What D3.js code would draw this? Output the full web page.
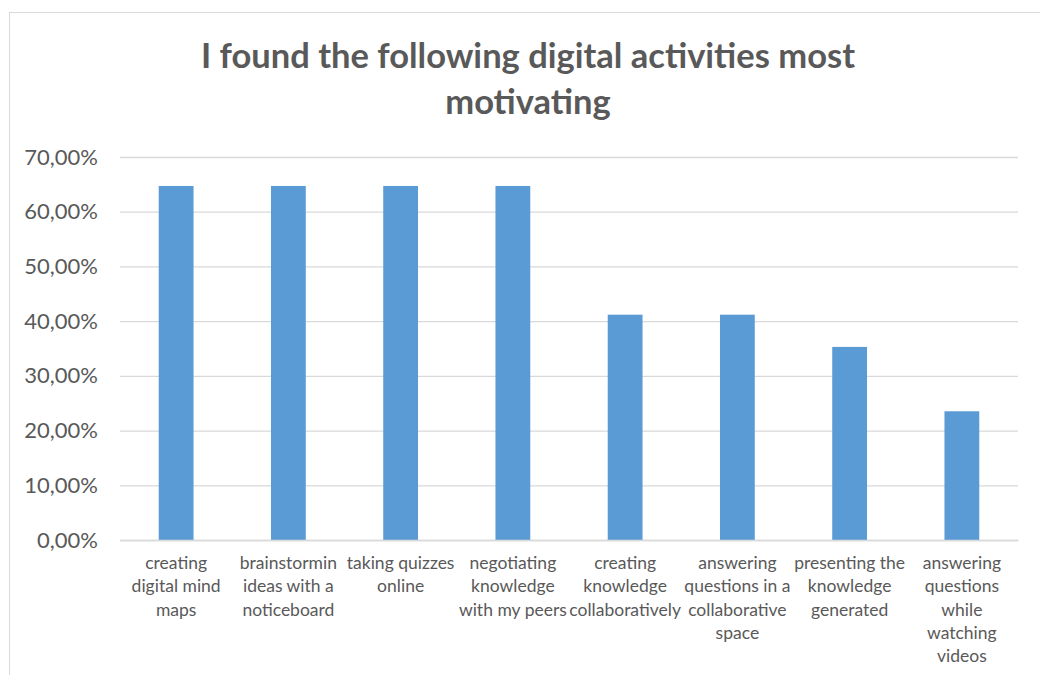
<!DOCTYPE html>
<html>
<head>
<meta charset="utf-8">
<script src="https://cdn.jsdelivr.net/npm/d3@7"></script>
<style>
  html, body { margin: 0; padding: 0; background: #fff; }
  svg { display: block; }
</style>
</head>
<body>
<svg id="chart" width="1040" height="675"></svg>
<script>
// Activities (each entry holds the wrapped lines of its axis label)
const categories = [
  ["creating", "digital mind", "maps"],
  ["brainstormin", "ideas with a", "noticeboard"],
  ["taking quizzes", "online"],
  ["negotiating", "knowledge", "with my peers"],
  ["creating", "knowledge", "collaboratively"],
  ["answering", "questions in a", "collaborative", "space"],
  ["presenting the", "knowledge", "generated"],
  ["answering", "questions", "while", "watching", "videos"]
];
// Share of respondents (%)
const values = [64.71, 64.71, 64.71, 64.71, 41.18, 41.18, 35.29, 23.53];
const yTicks = [0, 10, 20, 30, 40, 50, 60, 70];
const titleLines = ["I found the following digital activities most", "motivating"];

const svg = d3.select("#chart");
const textColor = "#595959";
const gridColor = "#d9d9d9";
const font = "Lato, 'Open Sans', sans-serif";

// chart frame
svg.append("rect")
  .attr("x", 9.5).attr("y", 12.5)
  .attr("width", 1100).attr("height", 700)
  .attr("fill", "#fff").attr("stroke", gridColor).attr("stroke-width", 1);

const plot = { left: 120, right: 1018, top: 157, bottom: 540 };
const keys = categories.map((d, i) => i);

const x = d3.scaleBand()
  .domain(keys)
  .range([plot.left, plot.right])
  .paddingInner(0.69)
  .paddingOuter(0.345);

const y = d3.scaleLinear().domain([0, 70]).range([plot.bottom, plot.top]);

// gridlines + value axis labels
const yAxis = d3.axisLeft(y)
  .tickValues(yTicks)
  .tickSize(-(plot.right - plot.left))
  .tickPadding(22)
  .tickFormat(d => d3.format(".2f")(d).replace(".", ",") + "%");

const gy = svg.append("g")
  .attr("transform", `translate(${plot.left},0)`)
  .call(yAxis);
gy.select(".domain").remove();
gy.selectAll(".tick line").attr("stroke", gridColor).attr("stroke-width", 1.3);
gy.selectAll(".tick text")
  .attr("fill", textColor)
  .style("font-family", font)
  .style("font-size", "22px");

// bars
svg.append("g").selectAll("rect")
  .data(values)
  .join("rect")
  .attr("x", (d, i) => x(i))
  .attr("y", d => y(d))
  .attr("width", x.bandwidth())
  .attr("height", d => y(0) - y(d))
  .attr("fill", "#5b9bd5");

// category axis
const xAxis = d3.axisBottom(x).tickSize(0).tickFormat("");
const gx = svg.append("g")
  .attr("transform", `translate(0,${plot.bottom})`)
  .call(xAxis);
gx.select(".domain").attr("stroke", gridColor).attr("stroke-width", 1.3);

gx.selectAll(".tick").each(function(i) {
  const t = d3.select(this).select("text")
    .attr("y", 0)
    .attr("dy", null)
    .attr("fill", textColor)
    .attr("text-anchor", "middle")
    .style("font-family", font)
    .style("font-size", "17.5px");
  t.selectAll("tspan")
    .data(categories[i])
    .join("tspan")
    .attr("x", 0)
    .attr("y", (d, j) => 29 + j * 23.3)
    .text(d => d);
});

// title
svg.append("g").selectAll("text")
  .data(titleLines)
  .join("text")
  .attr("x", 528)
  .attr("y", (d, i) => 68 + i * 46)
  .attr("text-anchor", "middle")
  .attr("fill", textColor)
  .style("font-family", font)
  .style("font-weight", "bold")
  .style("font-size", "34.5px")
  .text(d => d);
</script>
</body>
</html>
